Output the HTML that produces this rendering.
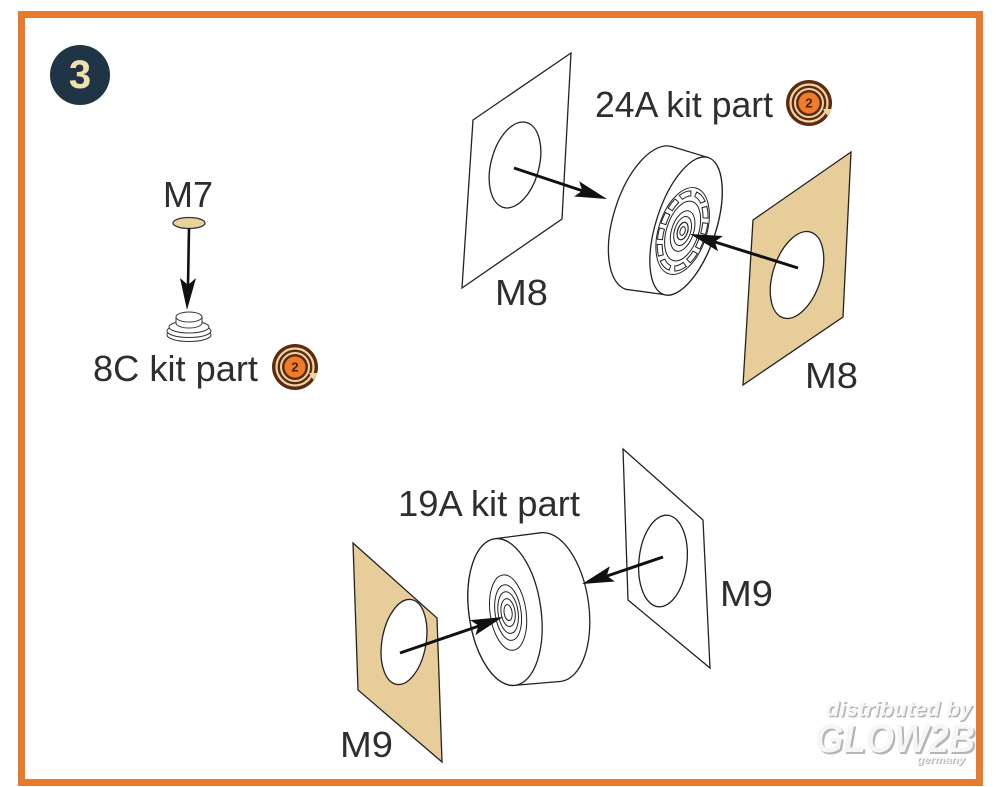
<!DOCTYPE html>
<html>
<head>
<meta charset="utf-8">
<style>
  html,body{margin:0;padding:0;background:#ffffff;}
  svg{display:block;}
  .lbl{font-family:"Liberation Sans",sans-serif;font-size:36px;fill:#2e2e2e;}
</style>
</head>
<body>
<svg width="1000" height="787" viewBox="0 0 1000 787" xmlns="http://www.w3.org/2000/svg">
  <rect x="0" y="0" width="1000" height="787" fill="#ffffff"/>
  <!-- frame -->
  <rect x="21.5" y="14.5" width="958" height="768" fill="none" stroke="#e77a2b" stroke-width="7"/>

  <!-- step badge -->
  <circle cx="80" cy="75" r="30" fill="#1f3545"/>
  <text x="80" y="88" font-family="Liberation Sans, sans-serif" font-size="40" font-weight="bold" text-anchor="middle" fill="#efe0ae">3</text>

  <!-- ===== M7 / 8C ===== -->
  <text class="lbl" x="163" y="207" textLength="50" lengthAdjust="spacingAndGlyphs">M7</text>
  <ellipse cx="189" cy="223" rx="16" ry="5.5" fill="#e8d49b" stroke="#333" stroke-width="1.3"/>
  <!-- 8C part -->
  <ellipse cx="189" cy="335" rx="22" ry="6.5" fill="#fff" stroke="#333" stroke-width="1"/>
  <ellipse cx="189" cy="331" rx="22" ry="6.5" fill="#fff" stroke="#333" stroke-width="1"/>
  <ellipse cx="189" cy="327" rx="20" ry="6" fill="#fff" stroke="#333" stroke-width="1"/>
  <path d="M176,317 L176,323 A13,5 0 0 0 202,323 L202,317 Z" fill="#fff" stroke="#333" stroke-width="1"/>
  <ellipse cx="189" cy="317" rx="13" ry="5" fill="#fff" stroke="#333" stroke-width="1"/>
  <!-- arrow M7 -->
  <line x1="189" y1="228" x2="188" y2="286" stroke="#111" stroke-width="2.6"/>
  <polygon points="187,310 180,278 188,285 196,278" fill="#111"/>
  <text class="lbl" x="93" y="381" textLength="165" lengthAdjust="spacingAndGlyphs">8C kit part</text>
  <!-- icon 8C -->
  <g transform="translate(295,367)">
    <circle r="23" fill="#5c2c12"/>
    <circle r="18.5" fill="none" stroke="#f0d4a4" stroke-width="2.2"/>
    <circle r="14" fill="none" stroke="#f0d4a4" stroke-width="2"/>
    <circle r="10.5" fill="#ef7b2b"/>
    <text x="0" y="4.5" font-family="Liberation Sans, sans-serif" font-size="13" font-weight="bold" text-anchor="middle" fill="#4a220c">2</text>
    <polygon points="14,6 23,6 18.5,13" fill="#f0d4a4"/>
  </g>

  <!-- ===== 24A assembly ===== -->
  <!-- left M8 panel -->
  <polygon points="473,120 571,53 562,219 462,288" fill="#fff" stroke="#222" stroke-width="1.3"/>
  <ellipse cx="515" cy="165" rx="24" ry="44" transform="rotate(15 515 165)" fill="#fff" stroke="#222" stroke-width="1.3"/>
  <text class="lbl" x="495" y="305" textLength="53" lengthAdjust="spacingAndGlyphs">M8</text>

  <!-- wheel 24A -->
  <g transform="translate(649,218) rotate(18)">
    <path d="M0,-75 L37.7,-75.8 A30,72 0 0 1 37.7,68.2 L0,75 A35,75 0 0 1 0,-75 Z" fill="#fff" stroke="#222" stroke-width="1.3"/>
    <ellipse cx="37.7" cy="-3.8" rx="30" ry="72" fill="#fff" stroke="#222" stroke-width="1.3"/>
    <g transform="translate(36,2)">
      <ellipse rx="24" ry="45" fill="none" stroke="#222" stroke-width="1"/>
      <ellipse rx="20.5" ry="39" fill="none" stroke="#222" stroke-width="6" stroke-dasharray="12 4"/>
      <ellipse rx="20.5" ry="39" fill="none" stroke="#fff" stroke-width="4" stroke-dasharray="10 6" stroke-dashoffset="-1"/>
      <ellipse rx="16" ry="31" fill="none" stroke="#222" stroke-width="1"/>
      <ellipse rx="11" ry="21" fill="none" stroke="#222" stroke-width="1"/>
      <ellipse rx="8" ry="15" fill="none" stroke="#222" stroke-width="1"/>
      <ellipse rx="5" ry="9" fill="none" stroke="#222" stroke-width="1.2"/>
      <ellipse rx="2.5" ry="4.5" fill="none" stroke="#222" stroke-width="1"/>
    </g>
  </g>

  <!-- arrow left M8 -> wheel -->
  <line x1="514" y1="168" x2="583" y2="191" stroke="#111" stroke-width="3"/>
  <polygon points="607,199 574.1,196.5 582.3,190.8 579.1,181.3" fill="#111"/>

  <!-- right M8 panel (tan) -->
  <polygon points="753,220 851,152 843,317 743,385" fill="#e7cd9a" stroke="#222" stroke-width="1.3"/>
  <ellipse cx="797" cy="275" rx="24" ry="45" transform="rotate(18 797 275)" fill="#fff" stroke="#222" stroke-width="1.3"/>
  <text class="lbl" x="805" y="388" textLength="53" lengthAdjust="spacingAndGlyphs">M8</text>
  <!-- arrow right M8 -> hub -->
  <line x1="798" y1="268" x2="715" y2="242" stroke="#111" stroke-width="3"/>
  <polygon points="690,234 722.9,236 714.8,241.8 718.1,251.2" fill="#111"/>

  <text class="lbl" x="595" y="117" textLength="178" lengthAdjust="spacingAndGlyphs">24A kit part</text>
  <!-- icon 24A -->
  <g transform="translate(809,103)">
    <circle r="23" fill="#5c2c12"/>
    <circle r="18.5" fill="none" stroke="#f0d4a4" stroke-width="2.2"/>
    <circle r="14" fill="none" stroke="#f0d4a4" stroke-width="2"/>
    <circle r="10.5" fill="#ef7b2b"/>
    <text x="0" y="4.5" font-family="Liberation Sans, sans-serif" font-size="13" font-weight="bold" text-anchor="middle" fill="#4a220c">2</text>
    <polygon points="14,6 23,6 18.5,13" fill="#f0d4a4"/>
  </g>

  <!-- ===== 19A assembly ===== -->
  <text class="lbl" x="398" y="516" textLength="182" lengthAdjust="spacingAndGlyphs">19A kit part</text>

  <!-- right M9 panel -->
  <polygon points="623,449 703,520 710,668 628,600" fill="#fff" stroke="#222" stroke-width="1.3"/>
  <ellipse cx="663" cy="561" rx="24" ry="46" transform="rotate(6 663 561)" fill="#fff" stroke="#222" stroke-width="1.3"/>
  <text class="lbl" x="720" y="606" textLength="53" lengthAdjust="spacingAndGlyphs">M9</text>

  <!-- wheel 19A -->
  <g transform="translate(505,612) rotate(-8)">
    <path d="M0,-74 L46,-73.5 A38,75 0 0 1 46,76.5 L0,74 A36,74 0 0 1 0,-74 Z" fill="#fff" stroke="#222" stroke-width="1.3"/>
    <ellipse cx="0" cy="0" rx="36" ry="74" fill="#fff" stroke="#222" stroke-width="1.3"/>
    <g transform="translate(3,1)">
      <ellipse rx="18" ry="38" fill="none" stroke="#222" stroke-width="1"/>
      <ellipse rx="13" ry="28" fill="none" stroke="#222" stroke-width="1"/>
      <ellipse rx="10" ry="21" fill="none" stroke="#222" stroke-width="1"/>
      <ellipse rx="7" ry="14" fill="none" stroke="#222" stroke-width="1"/>
      <ellipse rx="4" ry="8" fill="none" stroke="#222" stroke-width="1"/>
    </g>
  </g>

  <!-- arrow right M9 -> wheel -->
  <line x1="663" y1="557" x2="607" y2="576" stroke="#111" stroke-width="3"/>
  <polygon points="582,584 609.9,566.3 606.7,575.8 614.9,581.5" fill="#111"/>

  <!-- left M9 panel (tan) -->
  <polygon points="353,543 437,618 442,762 358,690" fill="#e7cd9a" stroke="#222" stroke-width="1.3"/>
  <ellipse cx="404" cy="642" rx="22" ry="43" transform="rotate(10 404 642)" fill="#fff" stroke="#222" stroke-width="1.3"/>
  <text class="lbl" x="340" y="757" textLength="53" lengthAdjust="spacingAndGlyphs">M9</text>
  <!-- arrow left M9 -> hub -->
  <line x1="400" y1="653" x2="479" y2="626" stroke="#111" stroke-width="3"/>
  <polygon points="503,617 470.2,620.1 478.5,625.6 475.4,635.1" fill="#111"/>

  <!-- watermark -->
  <g font-family="Liberation Sans, sans-serif" font-style="italic" font-weight="bold">
    <text x="827.5" y="717.5" font-size="21" fill="#b5b5b5" textLength="146" lengthAdjust="spacingAndGlyphs">distributed by</text>
    <text x="826" y="716" font-size="21" fill="#f6f6f6" textLength="146" lengthAdjust="spacingAndGlyphs">distributed by</text>
    <text x="817" y="754" font-size="40" fill="#b5b5b5" textLength="160" lengthAdjust="spacingAndGlyphs">GLOW2B</text>
    <text x="815" y="752" font-size="40" fill="#f6f6f6" textLength="160" lengthAdjust="spacingAndGlyphs">GLOW2B</text>
    <text x="918" y="764" font-size="10" fill="#b5b5b5" textLength="48" lengthAdjust="spacingAndGlyphs">germany</text>
    <text x="917" y="763" font-size="10" fill="#f2f2f2" textLength="48" lengthAdjust="spacingAndGlyphs">germany</text>
  </g>
</svg>
</body>
</html>
